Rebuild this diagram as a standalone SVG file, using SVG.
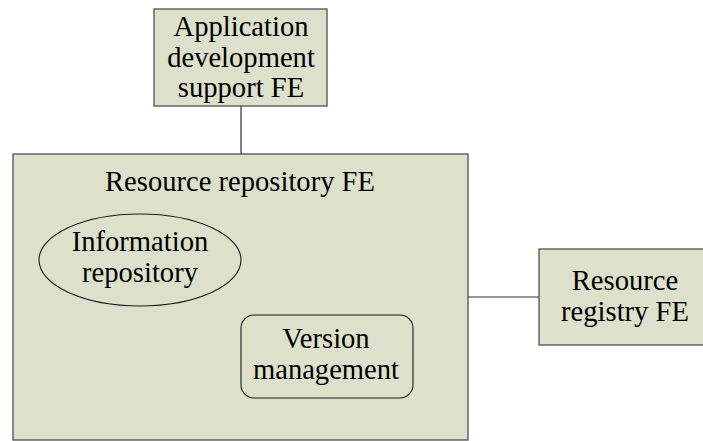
<svg xmlns="http://www.w3.org/2000/svg" width="703" height="441" viewBox="0 0 703 441">
<style>
.box{fill:#DDE0CB;stroke:#505050;stroke-width:1.3}
.inner{fill:#DDE0CB;stroke:#1a1a1a;stroke-width:1.1}
.t{font-family:'Liberation Serif','Times New Roman',Times,serif;font-size:28.6px;fill:#000;text-anchor:middle}
.c{stroke:#303030;stroke-width:1.2;fill:none}
</style>
<rect width="703" height="441" fill="#fff"/>
<g id="connectors">
<line class="c" x1="241" y1="106" x2="241" y2="154"/>
<line class="c" x1="468" y1="297" x2="539" y2="297"/>
</g>
<g id="app-dev-support">
<rect class="box" x="154" y="9" width="173" height="97"/>
<text class="t" x="241" y="36">Application</text>
<text class="t" x="241" y="67">development</text>
<text class="t" x="241" y="97">support FE</text>
</g>
<g id="resource-repository">
<rect class="box" x="13" y="154" width="455" height="286"/>
<text class="t" x="240" y="191">Resource repository FE</text>
</g>
<g id="information-repository">
<ellipse class="inner" cx="140" cy="260" rx="101" ry="46"/>
<text class="t" x="140" y="251">Information</text>
<text class="t" x="140" y="282">repository</text>
</g>
<g id="version-management">
<rect class="inner" x="241" y="315" width="172" height="83" rx="13" ry="13"/>
<text class="t" x="326" y="348">Version</text>
<text class="t" x="326" y="379">management</text>
</g>
<g id="resource-registry">
<rect class="box" x="539" y="249" width="175" height="96"/>
<text class="t" x="625" y="290">Resource</text>
<text class="t" x="625" y="321">registry FE</text>
</g>
</svg>
